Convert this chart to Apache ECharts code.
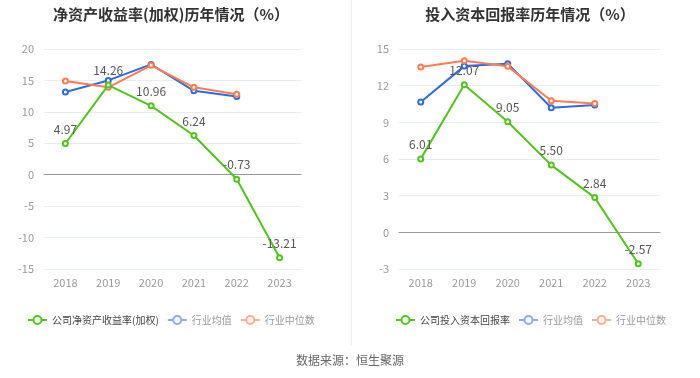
<!DOCTYPE html>
<html><head><meta charset="utf-8">
<script src="https://cdn.jsdelivr.net/npm/echarts@6/dist/echarts.min.js"></script>
<style>html,body{margin:0;padding:0;background:#fff}#c{width:700px;height:378px}</style>
</head><body><div id="c"></div>
<script>
const years = ['2018','2019','2020','2021','2022','2023'];
const roeCompany = [4.97, 14.26, 10.96, 6.24, -0.73, -13.21];
const roeIndustryMean = [13.15, 15.0, 17.55, 13.35, 12.45];
const roeIndustryMedian = [14.9, 13.9, 17.4, 13.9, 12.8];
const roicCompany = [6.01, 12.07, 9.05, 5.50, 2.84, -2.57];
const roicIndustryMean = [10.66, 13.6, 13.8, 10.19, 10.41];
const roicIndustryMedian = [13.52, 14.04, 13.58, 10.77, 10.55];
const titles = ['净资产收益率(加权)历年情况（%）', '投入资本回报率历年情况（%）'];
const companyNames = ['公司净资产收益率(加权)', '公司投入资本回报率'];
const meanName = '行业均值';
const medianName = '行业中位数';
const source = '数据来源：恒生聚源';

const FONT = '"Noto Sans CJK SC", "Noto Sans", sans-serif';
const GREEN = '#52c41a', BLUE = '#2f6ae6', ORANGE = '#ff7c4d';
const chart = echarts.init(document.getElementById('c'), null, {renderer: 'canvas'});

function xAxesFor(gi) {
  return [
    {gridIndex: gi, type: 'category', data: years, boundaryGap: true,
     axisLine: {onZero: true, lineStyle: {color: '#999'}},
     axisTick: {alignWithLabel: true, length: 5, lineStyle: {color: '#999'}},
     axisLabel: {show: false}},
    {gridIndex: gi, type: 'category', data: years, boundaryGap: true, position: 'bottom',
     axisLine: {show: false, onZero: false}, axisTick: {show: false},
     axisLabel: {color: '#999', fontSize: 11, margin: 8, fontFamily: FONT}}
  ];
}
function yAxisFor(gi, min, max, interval) {
  return {gridIndex: gi, type: 'value', min: min, max: max, interval: interval,
    axisLine: {show: false}, axisTick: {show: false},
    axisLabel: {color: '#999', fontSize: 11, margin: 10, fontFamily: FONT},
    splitLine: {lineStyle: {color: '#e8ecf5'}}};
}
function lineSeries(name, data, color, xi, yi, withLabel) {
  return {name: name, type: 'line', data: data, xAxisIndex: xi, yAxisIndex: yi,
    symbol: 'emptyCircle', symbolSize: 5, lineStyle: {width: 2, color: color},
    itemStyle: {color: color}, z: withLabel ? 3 : 2,
    label: withLabel ? {show: true, position: 'top', color: '#555', fontSize: 12, fontFamily: FONT,
      formatter: p => p.value.toFixed(2)} : {show: false}};
}
function legendFor(left, companyName) {
  return {left: left, top: 315, padding: 0, itemWidth: 19, itemHeight: 10, itemGap: 8,
    textStyle: {fontSize: 10, color: '#999', fontFamily: FONT},
    data: [
      {name: companyName, textStyle: {color: '#444'}},
      {name: meanName, itemStyle: {color: '#8daaf0', borderColor: '#8daaf0'}, lineStyle: {color: '#8daaf0'}},
      {name: medianName, itemStyle: {color: '#ffae92', borderColor: '#ffae92'}, lineStyle: {color: '#ffae92'}}
    ]};
}

chart.setOption({
  animation: false,
  textStyle: {fontFamily: FONT},
  title: [
    {text: titles[0], left: 166, top: 2, textAlign: 'center',
     textStyle: {fontSize: 15, fontWeight: 'bold', color: '#333', fontFamily: FONT}},
    {text: titles[1], left: 525, top: 2, textAlign: 'center',
     textStyle: {fontSize: 15, fontWeight: 'bold', color: '#333', fontFamily: FONT}}
  ],
  grid: [
    {left: 44, width: 257, top: 49, height: 220},
    {left: 399, width: 261, top: 49, height: 220}
  ],
  xAxis: [...xAxesFor(0), ...xAxesFor(1)],
  yAxis: [yAxisFor(0, -15, 20, 5), yAxisFor(1, -3, 15, 3)],
  legend: [legendFor(27, companyNames[0]), legendFor(395, companyNames[1])],
  series: [
    lineSeries(companyNames[0], roeCompany, GREEN, 0, 0, true),
    lineSeries(meanName, roeIndustryMean, BLUE, 0, 0, false),
    lineSeries(medianName, roeIndustryMedian, ORANGE, 0, 0, false),
    lineSeries(companyNames[1], roicCompany, GREEN, 2, 1, true),
    lineSeries(meanName, roicIndustryMean, BLUE, 2, 1, false),
    lineSeries(medianName, roicIndustryMedian, ORANGE, 2, 1, false)
  ],
  graphic: [
    {type: 'line', shape: {x1: 351.5, y1: 0, x2: 351.5, y2: 345}, style: {stroke: '#eeeeee', lineWidth: 1}},
    {type: 'text', left: 'center', top: 354, style: {text: source, fontSize: 12, fill: '#666', fontFamily: FONT}}
  ]
});
</script></body></html>
